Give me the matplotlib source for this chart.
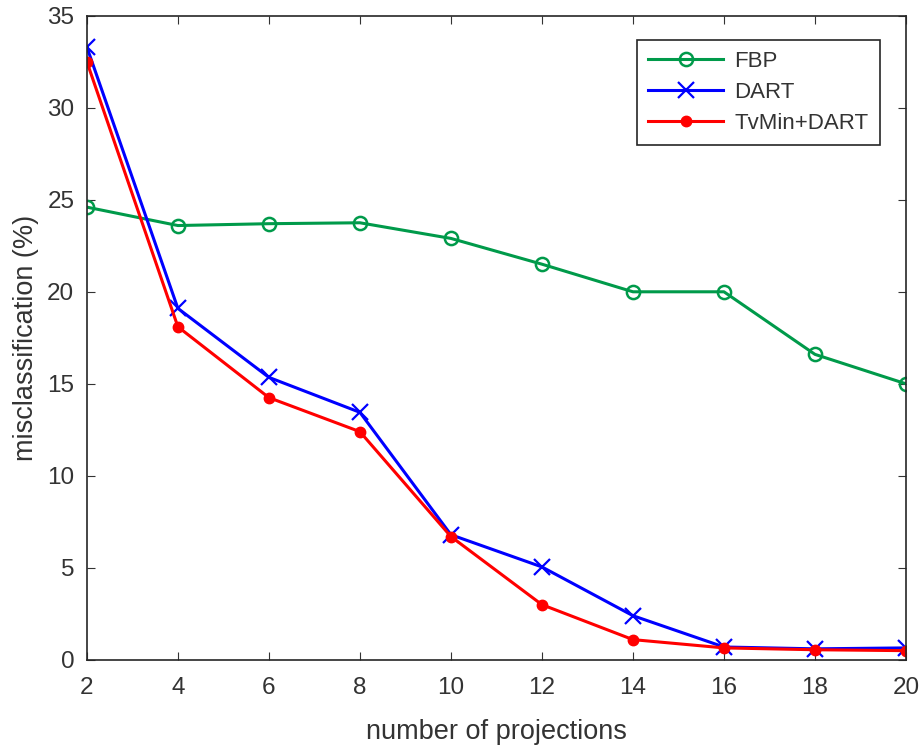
import numpy as np
import matplotlib
matplotlib.use('Agg')
import matplotlib.pyplot as plt

plt.rcParams['font.family'] = ['Liberation Sans', 'DejaVu Sans']

# data
projections = [2, 4, 6, 8, 10, 12, 14, 16, 18, 20]
fbp = [24.6, 23.6, 23.7, 23.75, 22.9, 21.5, 20.0, 20.0, 16.6, 15.0]
dart = [33.3, 19.1, 15.35, 13.45, 6.8, 5.05, 2.4, 0.7, 0.6, 0.65]
tvmin_dart = [32.5, 18.1, 14.25, 12.4, 6.7, 3.0, 1.1, 0.65, 0.55, 0.5]

fig = plt.figure(figsize=(9.24, 7.49), dpi=100)
ax = fig.add_axes([0.094, 0.119, 0.8865, 0.86])

ax.plot(projections, fbp, color='#009a4a', lw=2.2, marker='o', ms=9.5,
        mfc='none', mew=1.8, label='FBP')
ax.plot(projections, dart, color='#0000ff', lw=2.2, marker='x', ms=12,
        mew=1.6, label='DART')
ax.plot(projections, tvmin_dart, color='#ff0000', lw=2.2, marker='o', ms=7.5,
        label='TvMin+DART')

ax.set_xlim(2, 20)
ax.set_ylim(0, 35)
ax.set_xticks(range(2, 21, 2))
ax.set_yticks(range(0, 36, 5))
ax.tick_params(direction='in', top=True, right=True, labelsize=17.5,
               colors='#333333', length=6)
ax.tick_params(axis='x', pad=12)
ax.tick_params(axis='y', pad=9)
for s in ax.spines.values():
    s.set_color('#262626')
    s.set_linewidth(1.2)

ax.set_xlabel('number of projections', fontsize=19.5, color='#333333', labelpad=15)
ax.set_ylabel('misclassification (%)', fontsize=19.5, color='#333333', labelpad=6)

leg = ax.legend(loc='upper right', bbox_to_anchor=(0.968, 0.963), fontsize=16,
                fancybox=False, edgecolor='#262626', framealpha=1,
                handlelength=3.4, borderpad=0.5, borderaxespad=0,
                labelspacing=0.45, handletextpad=0.5)
leg.get_frame().set_linewidth(1.2)
for t in leg.get_texts():
    t.set_color('#333333')

fig.savefig('out.png', dpi=100)
